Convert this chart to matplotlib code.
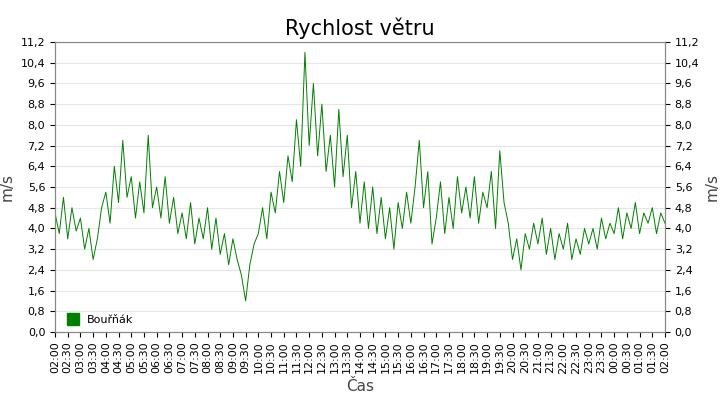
import numpy as np
import matplotlib
matplotlib.use("Agg")
import matplotlib.pyplot as plt
from matplotlib.ticker import FuncFormatter, MultipleLocator

# wind speed, 10-minute samples from 02:00 to 02:00 next day
speed = [
    4.6, 3.8, 5.2, 3.6, 4.8, 3.9,
    4.4, 3.2, 4.0, 2.8, 3.6, 4.8,
    5.4, 4.2, 6.4, 5.0, 7.4, 5.2,
    6.0, 4.4, 5.8, 4.6, 7.6, 4.8,
    5.6, 4.4, 6.0, 4.2, 5.2, 3.8,
    4.6, 3.6, 5.0, 3.4, 4.4, 3.6,
    4.8, 3.2, 4.4, 3.0, 3.8, 2.6,
    3.6, 2.8, 2.2, 1.2, 2.6, 3.4,
    3.8, 4.8, 3.6, 5.4, 4.6, 6.2,
    5.0, 6.8, 5.8, 8.2, 6.4, 10.8,
    7.2, 9.6, 6.8, 8.8, 6.2, 7.6,
    5.6, 8.6, 6.0, 7.6, 4.8, 6.2,
    4.2, 5.8, 4.0, 5.6, 3.8, 5.2,
    3.6, 4.8, 3.2, 5.0, 4.0, 5.4,
    4.2, 5.6, 7.4, 4.8, 6.2, 3.4,
    4.4, 5.8, 3.8, 5.2, 4.0, 6.0,
    4.6, 5.6, 4.4, 6.0, 4.2, 5.4,
    4.8, 6.2, 4.0, 7.0, 5.0, 4.2,
    2.8, 3.6, 2.4, 3.8, 3.2, 4.2,
    3.4, 4.4, 3.0, 4.0, 2.8, 3.8,
    3.2, 4.2, 2.8, 3.6, 3.0, 4.0,
    3.4, 4.0, 3.2, 4.4, 3.6, 4.2,
    3.8, 4.8, 3.6, 4.6, 4.0, 5.0,
    3.8, 4.6, 4.2, 4.8, 3.8, 4.6,
    4.2,
]
minutes = np.arange(len(speed)) * 10
tick_labels = ["%02d:%02d" % (((120 + m) // 60) % 24, (120 + m) % 60)
               for m in range(0, 24 * 60 + 1, 30)]

fig = plt.figure(figsize=(7.2, 4.0), dpi=100)
ax = fig.add_axes([55 / 720, 0.17, 610 / 720, 0.725])
ax.plot(minutes, speed, color="#008000", lw=0.7)

ax.set_xlim(0, 24 * 60)
ax.set_ylim(0, 11.2)
fmt = FuncFormatter(lambda v, p: ("%.1f" % v).replace(".", ","))
ax.yaxis.set_major_locator(MultipleLocator(0.8))
ax.yaxis.set_major_formatter(fmt)
ax.set_xticks(range(0, 24 * 60 + 1, 30))
ax.set_xticklabels(tick_labels, rotation=90, fontsize=8)
ax.tick_params(axis="y", labelsize=8)
ax.grid(axis="y", color="#e6e6e6", lw=0.8)
ax.set_axisbelow(True)
for s in ax.spines.values():
    s.set_color("#888888")

ax2 = ax.twinx()
ax2.set_ylim(ax.get_ylim())
ax2.yaxis.set_major_locator(MultipleLocator(0.8))
ax2.yaxis.set_major_formatter(fmt)
ax2.tick_params(axis="y", labelsize=8)
for s in ax2.spines.values():
    s.set_color("#888888")

ax.set_ylabel("m/s", fontsize=11, color="#444444")
ax2.set_ylabel("m/s", fontsize=11, color="#444444")
ax.set_xlabel("Čas", fontsize=11, color="#444444")
ax.set_title("Rychlost větru", fontsize=15, pad=5)

ax.plot([], [], "s", color="#008000", ms=8, label="Bouřňák")
ax.legend(loc="lower left", frameon=False, fontsize=8, handletextpad=0.3,
          borderaxespad=0.2)

fig.savefig("out.png")
